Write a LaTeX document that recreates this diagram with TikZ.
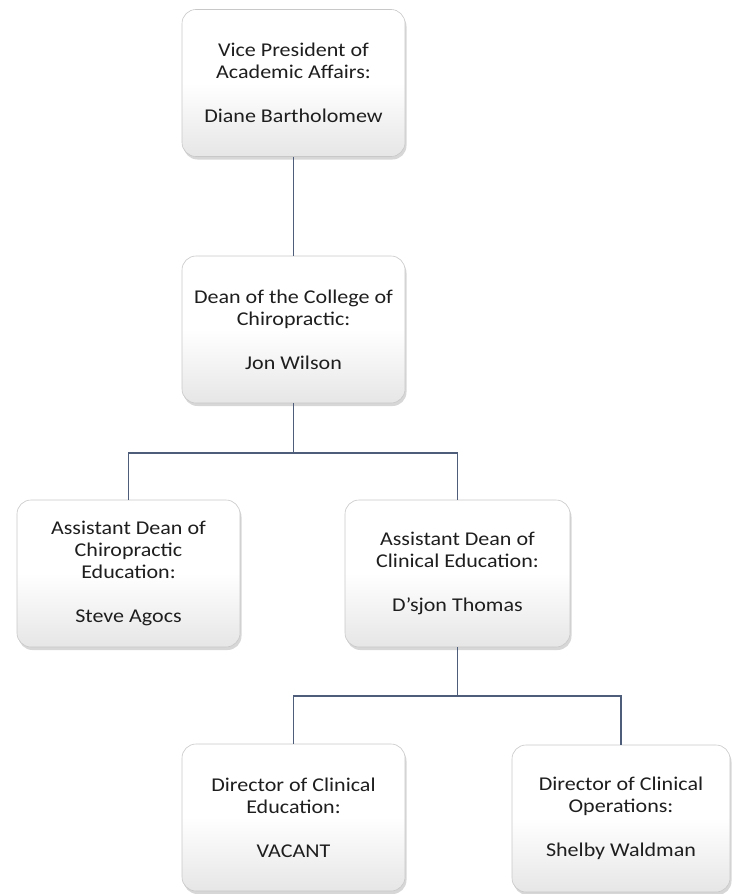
\documentclass[tikz,border=0pt]{standalone}
\usepackage{fontspec}
\setmainfont{Carlito}[FakeStretch=1.13]
\usetikzlibrary{shadows}
\definecolor{conncol}{RGB}{78,94,122}
\definecolor{boxedge}{RGB}{200,200,200}
\definecolor{boxbot}{RGB}{230,230,230}
\definecolor{txtcol}{RGB}{30,30,30}
\tikzset{
  orgbox/.style={rectangle, rounded corners=14pt, draw=boxedge, line width=0.6pt,
    top color=white, bottom color=boxbot, middle color=white,
    drop shadow={shadow xshift=1.5pt, shadow yshift=-3pt, opacity=0.45, fill=gray!70},
    minimum width=223pt, minimum height=147pt, align=center, inner sep=0pt,
    text=txtcol, font=\fontsize{19.5}{22}\selectfont},
  conn/.style={draw=conncol, line width=1.8pt}
}
\begin{document}
\begin{tikzpicture}[x=1pt,y=-1pt]
\useasboundingbox (0,0) rectangle (731,894);
\node[orgbox] (vp) at (293.5,83) {Vice President of\\Academic Affairs:\\[22pt]Diane Bartholomew};
\node[orgbox] (dean) at (293.5,329.5) {Dean of the College of\\Chiropractic:\\[22pt]Jon Wilson};
\node[orgbox] (adc) at (128.5,573.5) {Assistant Dean of\\Chiropractic\\Education:\\[22pt]Steve Agocs};
\node[orgbox, minimum width=225pt] (ade) at (457.5,573.5) {Assistant Dean of\\Clinical Education:\\[22pt]D’sjon Thomas};
\node[orgbox] (dce) at (293.5,817.5) {Director of Clinical\\Education:\\[22pt]VACANT};
\node[orgbox, minimum width=218pt] (dco) at (621,818.5) {Director of Clinical\\Operations:\\[22pt]Shelby Waldman};
\draw[conn] (vp.south) -- (dean.north);
\draw[conn] (dean.south) -- ++(0,50) -| (adc.north);
\draw[conn] (dean.south) -- ++(0,50) -| (ade.north);
\draw[conn] (ade.south) -- ++(0,49) -| (dce.north);
\draw[conn] (ade.south) -- ++(0,49) -| (dco.north);
\end{tikzpicture}
\end{document}
